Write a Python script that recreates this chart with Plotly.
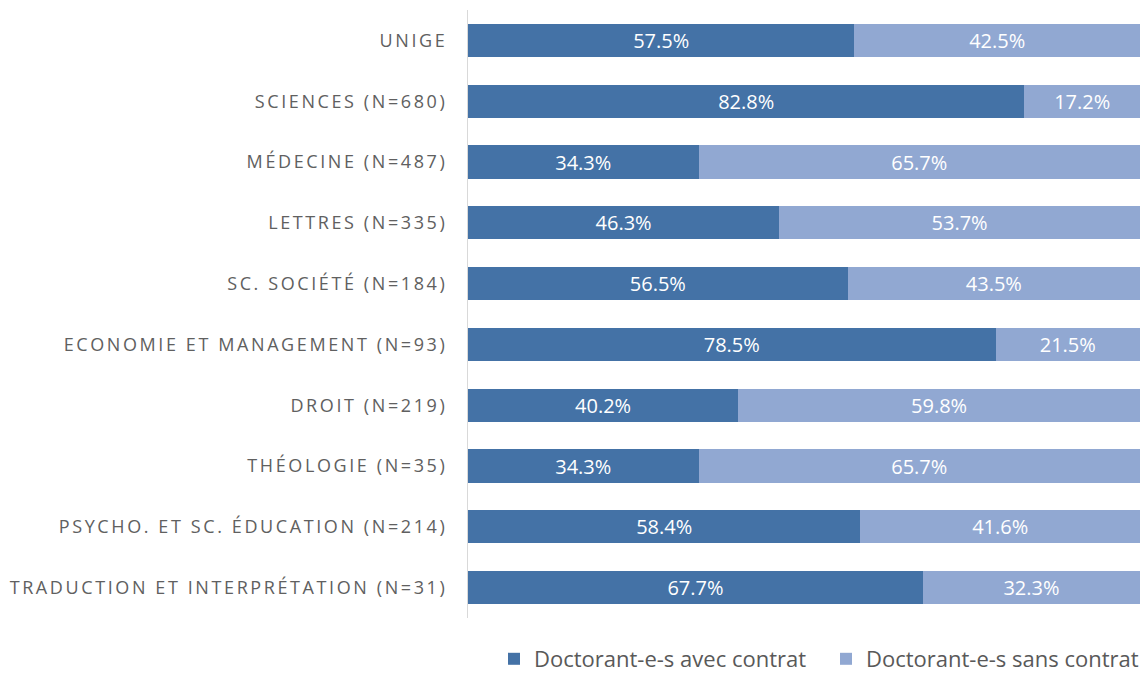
import plotly.graph_objects as go

categories = [
    "UNIGE",
    "SCIENCES (N=680)",
    "MÉDECINE (N=487)",
    "LETTRES (N=335)",
    "SC. SOCIÉTÉ (N=184)",
    "ECONOMIE ET MANAGEMENT (N=93)",
    "DROIT (N=219)",
    "THÉOLOGIE (N=35)",
    "PSYCHO. ET SC. ÉDUCATION (N=214)",
    "TRADUCTION ET INTERPRÉTATION (N=31)",
]
avec_contrat = [57.5, 82.8, 34.3, 46.3, 56.5, 78.5, 40.2, 34.3, 58.4, 67.7]
sans_contrat = [42.5, 17.2, 65.7, 53.7, 43.5, 21.5, 59.8, 65.7, 41.6, 32.3]
series_names = ["Doctorant-e-s avec contrat", "Doctorant-e-s sans contrat"]
colors = ["#4472a6", "#91a8d2"]
legend_ids = ["legend", "legend2"]

fig = go.Figure()
for name, vals, col, lg in zip(series_names, [avec_contrat, sans_contrat], colors, legend_ids):
    fig.add_trace(go.Bar(
        y=categories, x=vals, name=name, orientation="h",
        marker=dict(color=col, line=dict(width=0)),
        text=[f"{v:.1f}%" for v in vals],
        textposition="inside", insidetextanchor="middle", textangle=0,
        textfont=dict(color="white", size=20, family="Open Sans"),
        hoverinfo="skip", legend=lg,
    ))

legend_common = dict(
    orientation="h", xref="container", yref="container",
    xanchor="left", y=0.0, yanchor="bottom",
    font=dict(size=22, color="#595959", family="Open Sans"),
    itemwidth=30, bgcolor="rgba(0,0,0,0)",
)

fig.update_layout(
    barmode="stack",
    bargap=0.455,
    width=1148, height=680,
    margin=dict(l=468, r=8, t=10, b=62, autoexpand=False),
    plot_bgcolor="white", paper_bgcolor="white",
    font=dict(family="Open Sans", color="#595959"),
    uniformtext=dict(minsize=20, mode="show"),
    xaxis=dict(range=[0, 100], visible=False, fixedrange=True),
    yaxis=dict(
        autorange="reversed", showline=True, linecolor="#d9d9d9", linewidth=1,
        ticks="", showgrid=False, ticklabelstandoff=16, automargin=False,
        tickfont=dict(size=18, color="#606060", family="Open Sans"),
    ),
    legend=dict(x=494 / 1148, **legend_common),
    legend2=dict(x=826 / 1148, **legend_common),
    showlegend=True,
)

post = """
document.documentElement.style.margin='0';
document.body.style.margin='0';
document.body.style.padding='0';
function sp(){document.querySelectorAll('.ytick text').forEach(function(t){t.setAttribute('letter-spacing','2.6px');});}
sp();
var gd=document.getElementsByClassName('plotly-graph-div')[0];
if(gd&&gd.on){gd.on('plotly_afterplot',sp);}
"""
fig.write_html("out.html", post_script=post, config={"displayModeBar": False})
